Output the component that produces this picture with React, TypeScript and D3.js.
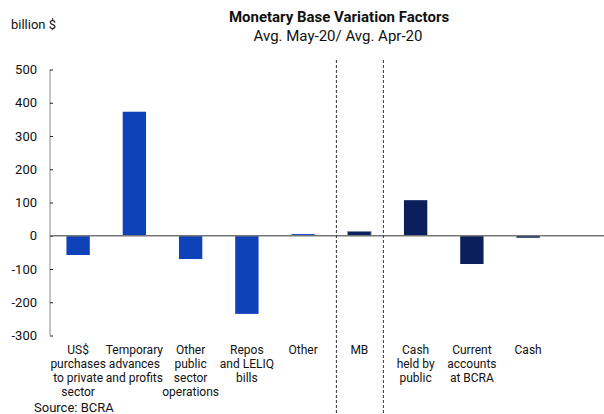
import { useEffect, useRef } from 'react'
import * as d3 from 'd3'

// Values (billion $)
const CATEGORIES = [
  ['US$', 'purchases', 'to private', 'sector'],
  ['Temporary', 'advances', 'and profits'],
  ['Other', 'public', 'sector', 'operations'],
  ['Repos', 'and LELIQ', 'bills'],
  ['Other'],
  ['MB'],
  ['Cash', 'held by', 'public'],
  ['Current', 'accounts', 'at BCRA'],
  ['Cash'],
]
const VALUES = [-58, 373, -70, -235, 5, 13, 107, -85, -6]
const GROUPS = ['factor', 'factor', 'factor', 'factor', 'factor', 'total', 'use', 'use', 'use']
const Y_TICKS = [500, 400, 300, 200, 100, 0, -100, -200, -300]

const BLUE = '#0F42B9'
const NAVY = '#0A1F5B'
const FONT = 'Roboto, sans-serif'

export default function App() {
  const svgRef = useRef<SVGSVGElement>(null)

  useEffect(() => {
    if (!svgRef.current) return
    const svg = d3.select(svgRef.current)
    svg.selectAll('*').remove()

    const left = 50
    const x = d3.scaleBand<number>()
      .domain(d3.range(VALUES.length))
      .range([left, left + 56.25 * VALUES.length])
    const y = d3.scaleLinear().domain([-300, 500]).range([335.5, 69.5])
    const barW = x.bandwidth() * 0.415
    const cx = (i: number) => (x(i) ?? 0) + x.bandwidth() / 2

    // Titles
    svg.append('text').attr('x', 339).attr('y', 22).attr('text-anchor', 'middle')
      .attr('font-family', FONT).attr('font-weight', 'bold').attr('font-size', 15)
      .attr('fill', '#111').text('Monetary Base Variation Factors')
    svg.append('text').attr('x', 338).attr('y', 41).attr('text-anchor', 'middle')
      .attr('font-family', FONT).attr('font-size', 15)
      .attr('fill', '#111').text('Avg. May-20/ Avg. Apr-20')
    svg.append('text').attr('x', 11).attr('y', 29)
      .attr('font-family', FONT).attr('font-size', 13)
      .attr('fill', '#111').text('billion $')

    // Y axis
    const ax = svg.append('g').attr('transform', `translate(${left},0)`)
      .call(d3.axisRight(y).tickValues(Y_TICKS).tickSize(3).tickFormat(() => ''))
    ax.select('.domain').attr('stroke', '#888').attr('d', `M0,${y(500)}V${y(-300)}`)
    ax.selectAll('.tick line').attr('stroke', '#222')
    svg.append('g').selectAll('text').data(Y_TICKS).join('text')
      .attr('x', 37).attr('y', (d) => y(d) + 4.5).attr('text-anchor', 'end')
      .attr('font-family', FONT).attr('font-size', 13).attr('fill', '#111')
      .text((d) => d)

    // Bars
    svg.append('g').selectAll('rect').data(VALUES).join('rect')
      .attr('x', (_, i) => cx(i) - barW / 2)
      .attr('width', barW)
      .attr('y', (d) => y(Math.max(0, d)))
      .attr('height', (d) => Math.abs(y(d) - y(0)))
      .attr('fill', (_, i) => (GROUPS[i] === 'factor' ? BLUE : NAVY))
      .attr('stroke', (_, i) => (GROUPS[i] === 'total' ? '#7f8fb0' : 'none'))
      .attr('stroke-width', 0.8)

    // Zero line
    svg.append('line').attr('x1', left).attr('x2', 604)
      .attr('y1', y(0)).attr('y2', y(0))
      .attr('stroke', '#777').attr('stroke-width', 1.3)

    // Dashed separators around MB
    const mb = GROUPS.indexOf('total')
    ;[cx(mb) - 23, cx(mb) + 24].forEach((dx) => {
      svg.append('line').attr('x1', dx).attr('x2', dx).attr('y1', 60).attr('y2', 414)
        .attr('stroke', '#333').attr('stroke-width', 1).attr('stroke-dasharray', '3,2')
    })

    // Category labels
    const lab = svg.append('g').attr('font-family', FONT).attr('font-size', 12)
      .attr('fill', '#111').attr('text-anchor', 'middle')
    CATEGORIES.forEach((lines, i) => {
      const t = lab.append('text').attr('x', cx(i)).attr('y', 354)
      lines.forEach((ln, k) => {
        t.append('tspan').attr('x', cx(i)).attr('dy', k === 0 ? 0 : 14).text(ln)
      })
    })

    svg.append('text').attr('x', 34).attr('y', 412)
      .attr('font-family', FONT).attr('font-size', 13)
      .attr('fill', '#111').text('Source: BCRA')
  }, [])

  return (
    <svg ref={svgRef} width={604} height={414}
      style={{ position: 'absolute', left: 0, top: 0, background: '#fff' }} />
  )
}
